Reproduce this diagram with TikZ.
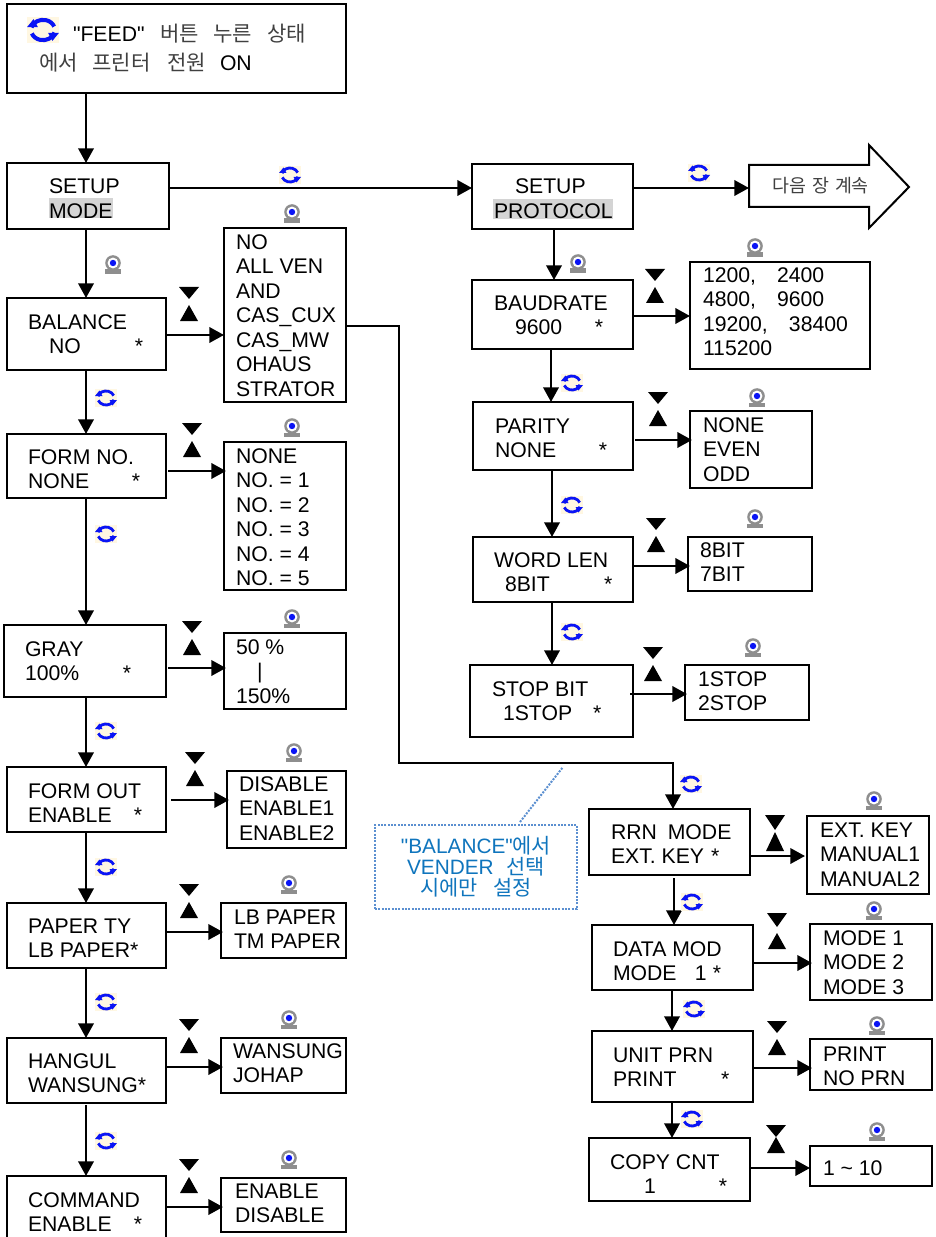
\documentclass[tikz,border=0pt]{standalone}
\usepackage{fontspec}
\setmainfont{Liberation Sans}[Ligatures=TeXOff]
\newfontfamily\cjk{Noto Sans CJK KR}
\usetikzlibrary{arrows.meta,calc}
\newlength\px \setlength\px{0.75pt}
\definecolor{krgray}{gray}{0.25}
\definecolor{calloutline}{HTML}{5B8FD0}
\definecolor{callouttext}{HTML}{0F75BD}
\definecolor{iconcream}{HTML}{FFF7E2}
\definecolor{iconblue}{HTML}{0A14F5}
\definecolor{camgray}{HTML}{8E8E8E}
\tikzset{
  boxnode/.style={draw=black,line width=1.5pt,rectangle,inner sep=0pt,outer sep=0pt,fill=none},
  txt/.style={anchor=north west,inner sep=0pt,outer sep=0pt,align=left,yshift=15pt,
    font=\fontsize{15.9pt}{18.4pt}\selectfont},
  krtxt/.style={inner sep=0pt,anchor=base west,font=\fontsize{15.8pt}{18pt}\selectfont},
  conn/.style={line width=1.95pt,-{Triangle[length=11pt,width=11.5pt]}},
  hilite/.style={fill=black!17,draw=none},
}
\newcommand\bx[5]{\node[boxnode,minimum width={(#4-#2)*0.75pt},minimum height={(#5-#3)*0.75pt}] (#1) at ({(#2+#4)/2},{(#3+#5)/2}) {};}
\newcommand\tb[4]{\node[txt] (#1) at (#2,#3) {\rule{0pt}{15pt}#4};}
\newcommand\hc[5]{\draw[conn] ($(#1.east |- 0,#3)+(#4,0)$) -- ($(#2.west |- 0,#3)+(#5,0)$);}
\newcommand\vc[5]{\draw[conn] ($(#3,0 |- #1.south)+(0,#4)$) -- ($(#3,0 |- #2.north)+(0,#5)$);}
\newcommand\updn[5]{%
  \fill (#1-10,#2) -- (#1+10,#2) -- (#1,#3) -- cycle;
  \fill (#1-9,#5) -- (#1+9,#5) -- (#1,#4) -- cycle;}
\newcommand\refr[3]{%
  \begin{scope}[shift={(#1,#2)},x=0.75pt,y=0.75pt,scale=#3]
    \fill[iconcream] (-11,-9) rectangle (11,9);
    \draw[iconblue,line width={2.1pt*#3}] (165:8.2 and 7) arc[start angle=165,end angle=20,x radius=8.2,y radius=7];
    \draw[iconblue,line width={2.1pt*#3}] (-15:8.2 and 7) arc[start angle=-15,end angle=-160,x radius=8.2,y radius=7];
    \fill[iconblue] (-11,2) -- (-3.5,2) -- (-6.5,7.5) -- cycle;
    \fill[iconblue] (11,-2) -- (3.5,-2) -- (6.5,-7.5) -- cycle;
  \end{scope}}
\newcommand\cam[2]{%
  \begin{scope}[shift={(#1,#2)},x=0.75pt,y=0.75pt]
    \fill[camgray] (-8,-19) rectangle (8,-14.5);
    \fill[camgray] (-4,-15) rectangle (4,-12);
    \fill[camgray] (0,-8) circle (7.8);
    \fill[white] (0,-8) circle (5.4);
    \fill[iconblue] (0,-8) circle (3.2);
  \end{scope}}
\newcommand\kr[1]{{\cjk\color{krgray}#1}}
\newcommand\krb[1]{{\cjk #1}}
\begin{document}
\begin{tikzpicture}[x=0.75pt,y=-0.75pt]
\useasboundingbox (0,0) rectangle (935,1237);
\fill[white] (0,0) rectangle (935,1237);
\clip (0,0) rectangle (935,1237);

% highlights
\fill[hilite] (49,198) rectangle (113,218);
\fill[hilite] (493,199) rectangle (613,219);

% ---- boxes, left column
\bx{top}{7}{4}{346}{93}
\bx{setup}{7}{163}{169}{229}
\bx{bal}{7}{298}{166}{370}
\bx{balO}{224}{228}{346}{402}
\bx{form}{7}{434}{166}{498}
\bx{formO}{224}{442}{346}{590}
\bx{gray}{4}{625}{166}{697}
\bx{grayO}{224}{633}{346}{709}
\bx{out}{7}{767}{166}{832}
\bx{outO}{227}{771}{346}{848}
\bx{paper}{7}{903}{166}{968}
\bx{paperO}{221}{903}{346}{958}
\bx{hang}{7}{1038}{166}{1103}
\bx{hangO}{221}{1038}{346}{1093}
\bx{cmd}{7}{1176}{166}{1255}
\bx{cmdO}{221}{1178}{346}{1232}
% ---- boxes, middle
\bx{prot}{472}{164}{633}{229}
\bx{baud}{472}{280}{633}{349}
\bx{baudO}{690}{262}{870}{369}
\bx{par}{473}{402}{633}{470}
\bx{parO}{690}{411}{812}{488}
\bx{word}{473}{537}{633}{602}
\bx{wordO}{688}{537}{812}{591}
\bx{stop}{470}{665}{633}{737}
\bx{stopO}{685}{665}{809}{720}
% ---- boxes, right
\bx{rrn}{589}{809}{750}{875}
\bx{rrnO}{807}{816}{929}{894}
\bx{data}{592}{925}{753}{990}
\bx{dataO}{810}{924}{932}{1000}
\bx{unit}{592}{1031}{753}{1102}
\bx{unitO}{810}{1039}{932}{1090}
\bx{copy}{589}{1138}{750}{1201}
\bx{copyO}{810}{1146}{932}{1186}

% continuation arrow
\coordinate (next) at (749,187);
\draw[black,line width=1.5pt,line join=miter] (next |- 0,165) -- (869,165) -- (869,145) -- (909,187)
  -- (869,228) -- (869,207) -- (next |- 0,207) -- cycle;

% callout
\node[draw=calloutline,densely dotted,line width=1.5pt,rectangle,inner sep=0pt,outer sep=0pt,
  minimum width=151.5pt,minimum height=63pt,text=callouttext,align=center,
  font=\fontsize{15.6pt}{15.75pt}\selectfont] (call) at (476,867)
  {"BALANCE"\krb{에서}\\VENDER\hspace*{13\px}\krb{선택}\\\krb{시에만}\hspace*{15\px}\krb{설정}};
\coordinate (callT) at (563,767);
\draw[calloutline,densely dotted,line width=1.5pt] ($(call.north)+(44,-3)$) -- (callT);

% connectors
\vc{top}{setup}{86}{0}{0}
\draw[conn] (setup.east |- 0,188) -- (prot.west |- 0,188);
\draw[conn] (prot.east |- 0,188) -- (next |- 0,188);
\vc{setup}{bal}{86}{0}{0}
\vc{bal}{form}{86}{0}{0}
\vc{form}{gray}{86}{0}{0}
\vc{gray}{out}{86}{0}{0}
\vc{out}{paper}{86}{0}{0}
\vc{paper}{hang}{86}{0}{0}
\vc{hang}{cmd}{86}{2}{0}
\hc{bal}{balO}{335}{0}{0}
\hc{form}{formO}{471}{2}{2}
\hc{gray}{grayO}{668}{2}{2}
\hc{out}{outO}{800}{5}{2}
\hc{paper}{paperO}{932}{0}{2}
\hc{hang}{hangO}{1067}{0}{2}
\hc{cmd}{cmdO}{1207}{0}{2}
\vc{prot}{baud}{554}{0}{0}
\vc{baud}{par}{551}{0}{0}
\vc{par}{word}{552}{0}{0}
\vc{word}{stop}{552}{0}{0}
\hc{baud}{baudO}{316}{0}{0}
\hc{par}{parO}{440}{2}{2}
\hc{word}{wordO}{566}{0}{2}
\hc{stop}{stopO}{694}{-3}{2}
\coordinate (lcA) at (399,326);
\coordinate (lcB) at (399,763);
\coordinate (lcC) at (673,763);
\draw[conn] (balO.east |- lcA) -- (lcA) -- (lcB) -- (lcC) -- (lcC |- rrn.north);
\hc{rrn}{rrnO}{856}{1}{-2}
\vc{rrn}{data}{674}{3}{0}
\hc{data}{dataO}{963}{1}{2}
\vc{data}{unit}{672}{0}{0}
\hc{unit}{unitO}{1068}{1}{2}
\vc{unit}{copy}{672}{0}{0}
\hc{copy}{copyO}{1168}{1}{0}

% texts, left
\tb{tTopA}{73}{42}{"FEED"}
\node[krtxt] (tTopB) at (160,42) {\kr{버튼}};
\node[krtxt] (tTopC) at (213,42) {\kr{누른}};
\node[krtxt] (tTopD) at (267,42) {\kr{상태}};
\node[krtxt] (tTopE) at (39,71) {\kr{에서}};
\node[krtxt] (tTopF) at (92,71) {\kr{프린터}};
\node[krtxt] (tTopG) at (167,71) {\kr{전원}};
\tb{tTopH}{220}{71}{ON}
\tb{tSetup}{49}{194}{SETUP\\MODE}
\tb{tBal}{28}{329}{BALANCE\\\hspace*{21\px}\makebox[86\px][l]{NO}*}
\tb{tBalO}{236}{249}{NO\\ALL VEN\\AND\\CAS\_CUX\\CAS\_MW\\OHAUS\\STRATOR}
\tb{tForm}{28}{464}{FORM NO.\\\makebox[104\px][l]{NONE}*}
\tb{tFormO}{236}{463}{NONE\\NO. = 1\\NO. = 2\\NO. = 3\\NO. = 4\\NO. = 5}
\tb{tGray}{25}{656}{GRAY\\\makebox[98\px][l]{100\%}*}
\tb{tGrayO}{236}{654}{50 \%\\\hspace*{21\px}|\\150\%}
\tb{tOut}{28}{798}{FORM OUT\\\makebox[106\px][l]{ENABLE}*}
\tb{tOutO}{239}{791}{DISABLE\\ENABLE1\\ENABLE2}
\tb{tPaper}{28}{933}{PAPER TY\\LB PAPER*}
\tb{tPaperO}{234}{924}{LB PAPER\\TM PAPER}
\tb{tHang}{28}{1068}{HANGUL\\WANSUNG*}
\tb{tHangO}{233}{1058}{WANSUNG\\JOHAP}
\tb{tCmd}{28}{1207}{COMMAND\\\makebox[106\px][l]{ENABLE}*}
\tb{tCmdO}{235}{1198}{ENABLE\\DISABLE}
% texts, middle
\tb{tProt}{494}{194}{\hspace*{21\px}SETUP\\PROTOCOL}
\tb{tBaud}{494}{310}{BAUDRATE\\\hspace*{21\px}\makebox[80\px][l]{9600}*}
\tb{tBaudO}{703}{282}{\makebox[74\px][l]{1200,}2400\\\makebox[74\px][l]{4800,}9600\\\makebox[86\px][l]{19200,}38400\\115200}
\tb{tPar}{495}{433}{PARITY\\\makebox[104\px][l]{NONE}*}
\tb{tParO}{703}{432}{NONE\\EVEN\\ODD}
\tb{tWord}{494}{567}{WORD LEN\\\hspace*{11\px}\makebox[99\px][l]{8BIT}*}
\tb{tWordO}{700}{557}{8BIT\\7BIT}
\tb{tStop}{492}{696}{STOP BIT\\\hspace*{11\px}\makebox[90\px][l]{1STOP}*}
\tb{tStopO}{698}{686}{1STOP\\2STOP}
\node[inner sep=0pt,anchor=base west,font=\fontsize{13.8pt}{16pt}\selectfont] (tNext) at (772,193) {\kr{다음}\hspace*{6\px}\kr{장}\hspace*{6\px}\kr{계속}};
% texts, right
\tb{tRrn}{611}{839}{RRN\hspace*{5\px} MODE\\\makebox[100\px][l]{EXT. KEY}*}
\tb{tRrnO}{820}{837}{EXT. KEY\\MANUAL1\\MANUAL2}
\tb{tData}{613}{956}{DATA MOD\\\makebox[82\px][l]{MODE}\makebox[18\px][l]{1}*}
\tb{tDataO}{823}{945}{MODE 1\\MODE 2\\MODE 3}
\tb{tUnit}{613}{1062}{UNIT PRN\\\makebox[108\px][l]{PRINT}*}
\tb{tUnitO}{823}{1061}{PRINT\\NO PRN}
\tb{tCopy}{610}{1169}{COPY CNT\\\hspace*{34\px}\makebox[75\px][l]{1}*}
\tb{tCopyO}{823}{1175}{1 \char`~{} 10}

% up/down markers
\updn{189}{287}{299}{305}{321}
\updn{192}{423}{435}{441}{457}
\updn{192}{621}{633}{639}{655}
\updn{195}{752}{764}{770}{786}
\updn{189}{884}{896}{902}{918}
\updn{189}{1019}{1031}{1037}{1053}
\updn{189}{1159}{1171}{1177}{1193}
\updn{655}{269}{281}{287}{303}
\updn{658}{392}{404}{410}{426}
\updn{656}{518}{530}{536}{552}
\updn{653}{647}{659}{665}{681}
\updn{775}{815}{830}{832}{851}
\updn{777}{913}{927}{933}{949}
\updn{777}{1021}{1033}{1039}{1055}
\updn{776}{1125}{1137}{1137}{1153}

% refresh icons
\refr{43}{30}{1.45}
\refr{290}{175}{1}
\refr{699}{173}{1}
\refr{106}{398}{1}
\refr{106}{534}{1}
\refr{106}{731}{1}
\refr{106}{867}{1}
\refr{106}{1002}{1}
\refr{106}{1141}{1}
\refr{572}{383}{1}
\refr{572}{505}{1}
\refr{572}{632}{1}
\refr{691}{784}{1}
\refr{692}{902}{1}
\refr{694}{1009}{1}
\refr{692}{1119}{1}

% camera icons
\cam{113}{255}
\cam{292}{204}
\cam{292}{418}
\cam{292}{609}
\cam{294}{743}
\cam{289}{875}
\cam{289}{1010}
\cam{289}{1150}
\cam{578}{254}
\cam{755}{238}
\cam{757}{388}
\cam{755}{509}
\cam{753}{638}
\cam{874}{791}
\cam{874}{901}
\cam{877}{1016}
\cam{877}{1122}
\end{tikzpicture}
\end{document}
